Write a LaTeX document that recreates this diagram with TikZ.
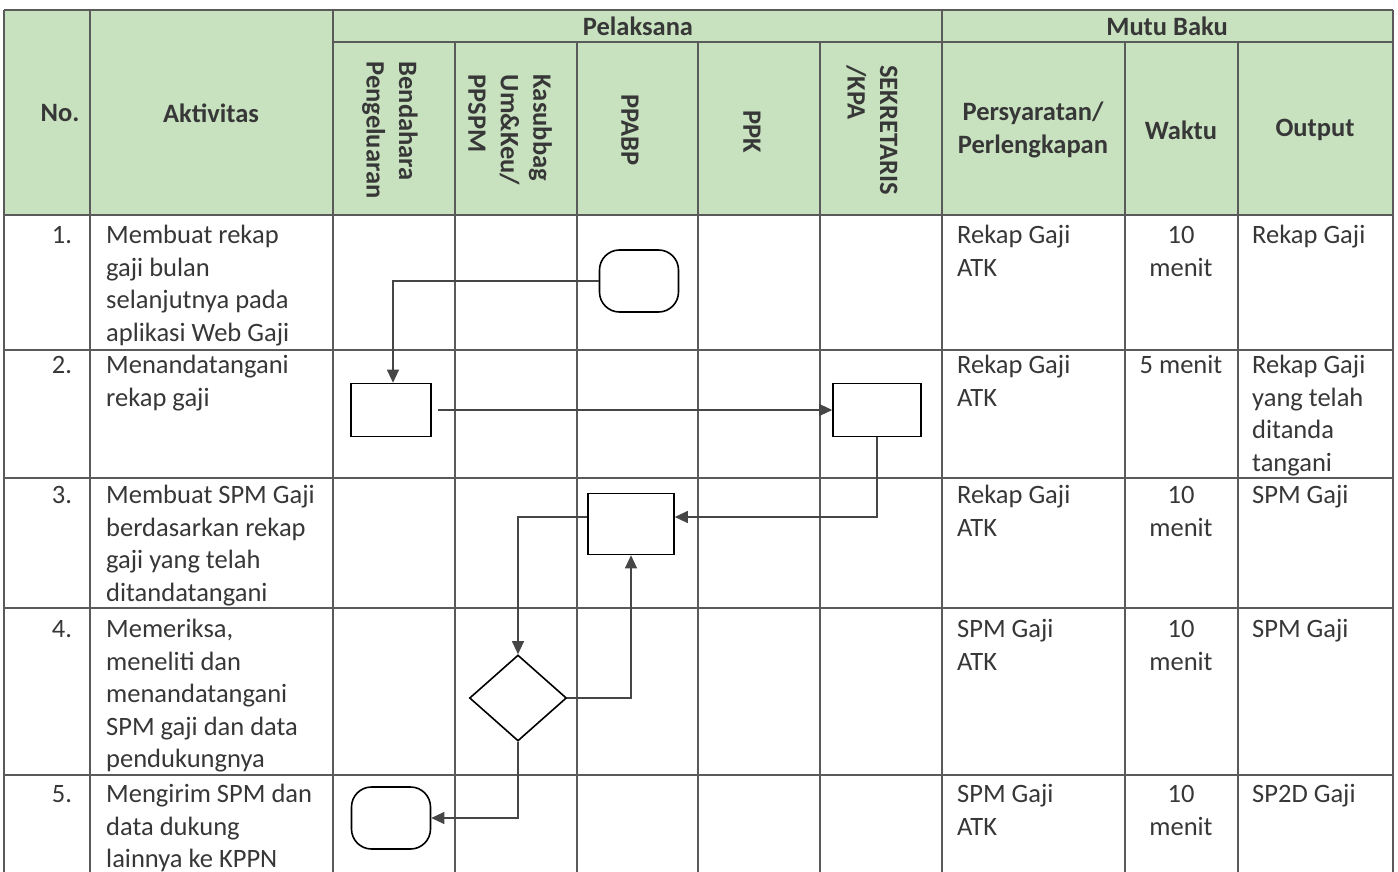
\documentclass[tikz,border=0pt]{standalone}
\usepackage{fontspec}
\setmainfont{Carlito}
\usetikzlibrary{arrows.meta,shapes.geometric,calc}
\definecolor{hdr}{RGB}{200,226,192}
\definecolor{ink}{RGB}{55,55,55}
\definecolor{rule}{RGB}{90,90,90}
\definecolor{flow}{RGB}{70,70,70}
\begin{document}
\begin{tikzpicture}[x=1pt,y=-1pt,
  grid/.style={draw=rule,line width=1.2pt},
  hd/.style={font=\fontsize{26.5}{32.5}\selectfont\bfseries,text=ink,inner sep=0pt,align=center},
  rot/.style={font=\fontsize{26.5}{32.5}\selectfont\bfseries,text=ink,inner sep=0pt,align=left,rotate=-90},
  body/.style={font=\fontsize{26.5}{32.5}\selectfont,text=ink,inner sep=0pt,align=left,anchor=north west},
  bodyc/.style={font=\fontsize{26.5}{32.5}\selectfont,text=ink,inner sep=0pt,align=center,anchor=north},
  proc/.style={draw=black,line width=1.6pt,fill=white,minimum width=80pt,minimum height=53pt,inner sep=0pt},
  term/.style={draw=black,line width=1.6pt,fill=white,minimum width=79pt,minimum height=62pt,rounded corners=20pt,inner sep=0pt},
  dec/.style={diamond,draw=black,line width=1.6pt,fill=white,minimum width=97pt,minimum height=86pt,inner sep=0pt,aspect=1.13},
  arr/.style={draw=flow,line width=1.1pt,-{Triangle[length=13pt,width=12pt,fill=flow]}}]
\useasboundingbox (0,0) rectangle (1398,872);
% header background
\fill[hdr] (4,10) rectangle (1393,215);
% horizontal lines
\draw[grid] (4,10) -- (1393,10);
\draw[grid] (333,42) -- (1393,42);
\foreach \y in {215,350,478,608,775}{\draw[grid] (4,\y) -- (1393,\y);}
% vertical lines
\foreach \x in {4,90,333,942,1393}{\draw[grid] (\x,10) -- (\x,872);}
\foreach \x in {455,577,698,820,1125,1238}{\draw[grid] (\x,42) -- (\x,872);}
% header texts
\node[hd] (hno) at (60,113) {No.};
\node[hd] (hakt) at (211,113) {Aktivitas};
\node[hd] (hpel) at (638,26) {Pelaksana};
\node[hd] (hmutu) at (1167,26) {Mutu Baku};
\node[rot] (hbend) at (390,130) {Bendahara\\Pengeluaran};
\node[rot] (hkas) at (510,130) {Kasubbag\\Um\&Keu/\\PPSPM};
\node[rot] (hppabp) at (630,130) {PPABP};
\node[rot] (hppk) at (752,132) {PPK};
\node[rot] (hsek) at (872,130) {SEKRETARIS\\/KPA};
\node[hd] (hpers) at (1033,130) {Persyaratan/\\Perlengkapan};
\node[hd] (hwak) at (1181,130) {Waktu};
\node[hd] (hout) at (1315,130) {Output};
% row numbers
\node[bodyc] (n1) at (62,221) {\strut 1.};
\node[bodyc] (n2) at (62,351) {\strut 2.};
\node[bodyc] (n3) at (62,481) {\strut 3.};
\node[bodyc] (n4) at (62,615) {\strut 4.};
\node[bodyc] (n5) at (62,780) {\strut 5.};
% activities
\node[body] (a1) at (106,221) {\strut Membuat rekap\\gaji bulan\\selanjutnya pada\\aplikasi Web Gaji};
\node[body] (a2) at (106,351) {\strut Menandatangani\\rekap gaji};
\node[body] (a3) at (106,481) {\strut Membuat SPM Gaji\\berdasarkan rekap\\gaji yang telah\\ditandatangani};
\node[body] (a4) at (106,615) {\strut Memeriksa,\\meneliti dan\\menandatangani\\SPM gaji dan data\\pendukungnya};
\node[body] (a5) at (106,780) {\strut Mengirim SPM dan\\data dukung\\lainnya ke KPPN};
% persyaratan
\node[body] (p1) at (957,221) {\strut Rekap Gaji\\ATK};
\node[body] (p2) at (957,351) {\strut Rekap Gaji\\ATK};
\node[body] (p3) at (957,481) {\strut Rekap Gaji\\ATK};
\node[body] (p4) at (957,615) {\strut SPM Gaji\\ATK};
\node[body] (p5) at (957,780) {\strut SPM Gaji\\ATK};
% waktu
\node[bodyc] (w1) at (1181,221) {\strut 10\\menit};
\node[bodyc] (w2) at (1181,351) {\strut 5 menit};
\node[bodyc] (w3) at (1181,481) {\strut 10\\menit};
\node[bodyc] (w4) at (1181,615) {\strut 10\\menit};
\node[bodyc] (w5) at (1181,780) {\strut 10\\menit};
% output
\node[body] (o1) at (1252,221) {\strut Rekap Gaji};
\node[body] (o2) at (1252,351) {\strut Rekap Gaji\\yang telah\\ditanda\\tangani};
\node[body] (o3) at (1252,481) {\strut SPM Gaji};
\node[body] (o4) at (1252,615) {\strut SPM Gaji};
\node[body] (o5) at (1252,780) {\strut SP2D Gaji};
% flow shapes
\node[term] (t1) at (639,281) {};
\node[proc] (b2a) at (391,410) {};
\node[proc,minimum width=88pt] (b2b) at (877,410) {};
\node[proc,minimum width=86pt,minimum height=61pt] (b3) at (631,524) {};
\node[dec] (d4) at (518,698) {};
\node[term] (t5) at (391,818) {};
% connectors
\draw[arr] (t1.west) -| ([xshift=2pt]b2a.north);
\draw[arr,shorten <=6pt] (b2a.east) -- (b2b.west);
\draw[arr] (b2b.south) |- ([yshift=7pt]b3.east);
\draw[arr] ([yshift=7pt]b3.west) -| (d4.north);
\draw[arr] (d4.east) -| (b3.south);
\draw[arr] (d4.south) |- (t5.east);
\end{tikzpicture}
\end{document}
